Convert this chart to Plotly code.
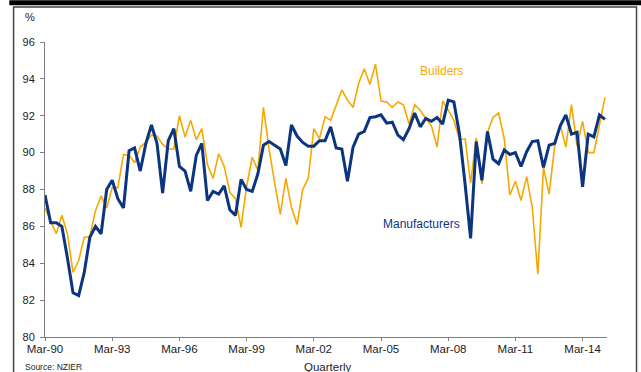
import pandas as pd
import plotly.graph_objects as go

# Quarterly periods, Mar-1990 .. Mar-2015
quarters = pd.date_range("1990-03-01", periods=101, freq="QS-MAR")

manufacturers = [
    87.7, 86.2, 86.2, 86.0, 84.3, 82.4, 82.25, 83.5, 85.4, 86.0,
    85.6, 88.0, 88.5, 87.5, 87.0, 90.1, 90.25, 89.0, 90.5, 91.5,
    90.5, 87.8, 90.65, 91.3, 89.25, 89.0, 87.9, 89.85, 90.5, 87.4,
    87.9, 87.75, 88.2, 86.9, 86.6, 88.55, 88.0, 87.9, 88.85, 90.4,
    90.6, 90.4, 90.2, 89.3, 91.5, 90.9, 90.55, 90.35, 90.35, 90.65,
    90.65, 91.4, 90.25, 90.2, 88.45, 90.3, 91.0, 91.15, 91.9, 91.95,
    92.05, 91.6, 91.65, 90.95, 90.7, 91.3, 92.15, 91.4, 91.85, 91.7,
    91.9, 91.55, 92.85, 92.75, 91.0, 88.3, 85.35, 90.6, 88.5, 91.15,
    89.65, 89.4, 90.15, 89.9, 90.0, 89.25, 90.05, 90.6, 90.65, 89.2,
    90.4, 90.5, 91.45, 92.05, 91.0, 91.1, 88.15, 91.0, 90.85, 92.05,
    91.8,
]

builders = [
    87.0, 86.3, 85.6, 86.6, 85.6, 83.5, 84.15, 85.4, 85.45, 86.85,
    87.65, 87.0, 88.1, 88.1, 89.9, 89.85, 89.45, 90.3, 90.55, 90.95,
    90.9, 90.45, 90.2, 90.2, 92.0, 90.85, 91.75, 90.7, 91.3, 89.35,
    88.6, 89.95, 89.25, 87.85, 87.5, 85.95, 88.15, 89.75, 89.05, 92.45,
    90.2, 88.35, 86.65, 88.6, 87.05, 86.1, 88.0, 88.6, 91.3, 90.75,
    91.95, 91.75, 92.6, 93.4, 92.85, 92.45, 93.75, 94.55, 93.7, 94.8,
    92.8, 92.75, 92.45, 92.75, 92.6, 91.55, 92.6, 92.3, 91.85, 91.45,
    90.3, 92.8, 92.3, 91.75, 90.7, 90.75, 88.35, 90.8, 88.3, 91.1,
    91.9, 92.15, 90.75, 87.7, 88.45, 87.4, 88.7, 87.05, 83.4, 89.2,
    87.75, 90.35, 91.5, 90.3, 92.6, 90.35, 91.7, 90.0, 90.0, 91.55,
    93.0,
]

ORANGE = "#F5A800"
NAVY = "#0B3580"
FONT = "Arial, Liberation Sans, sans-serif"

fig = go.Figure()
fig.add_trace(go.Scatter(x=quarters, y=builders, mode="lines", name="Builders",
                         line=dict(color=ORANGE, width=1.6)))
fig.add_trace(go.Scatter(x=quarters, y=manufacturers, mode="lines", name="Manufacturers",
                         line=dict(color=NAVY, width=3)))

fig.update_layout(
    width=641, height=372,
    margin=dict(l=44.7, r=34.3, t=41.7, b=35.3),
    paper_bgcolor="white", plot_bgcolor="white",
    showlegend=False,
    font=dict(family=FONT, color="#222222"),
)
fig.update_xaxes(
    range=["1990-03-01", "2015-04-03"],
    tick0="1990-03-01", dtick="M36", tickformat="%b-%y",
    showline=True, linecolor="#7f7f7f", linewidth=1,
    ticks="outside", ticklen=3, tickcolor="#7f7f7f",
    showgrid=False, zeroline=False,
    tickfont=dict(size=11.5, color="#222222"),
    ticklabelstandoff=-2,
)
fig.update_yaxes(
    range=[80, 96], dtick=2,
    showline=True, linecolor="#7f7f7f", linewidth=1,
    ticks="outside", ticklen=4, tickcolor="#7f7f7f",
    showgrid=False, zeroline=False,
    tickfont=dict(size=11, color="#222222"),
    ticklabelstandoff=3,
)

def ann(text, x, y, size, color="#222222", xanchor="center"):
    fig.add_annotation(text=text, x=x, y=y, xref="paper", yref="paper",
                       showarrow=False, xanchor=xanchor, yanchor="middle",
                       font=dict(size=size, color=color, family=FONT))

ann("Builders", 0.7057, 0.9007, 12, ORANGE)
ann("Manufacturers", 0.6708, 0.3844, 12, NAVY)
ann("%", -0.0262, 1.0847, 11)
ann("Quarterly", 0.5036, -0.1017, 11.5)
ann("Source: NZIER", -0.0391, -0.1017, 8.5, xanchor="left")

# frame and top bar
fig.add_shape(type="rect", xref="paper", yref="paper",
              x0=-0.0635, x1=1.061, y0=1.1244, y1=1.1414,
              fillcolor="black", line=dict(width=0), layer="above")
fig.add_shape(type="rect", xref="paper", yref="paper",
              x0=-0.0559, x1=1.0525, y0=-0.15, y1=1.1186,
              fillcolor="rgba(0,0,0,0)", line=dict(color="#444444", width=1.5))

fig.write_html("out.html", config={"displayModeBar": False},
               post_script="document.body.style.margin='0';document.body.style.overflow='hidden';")
